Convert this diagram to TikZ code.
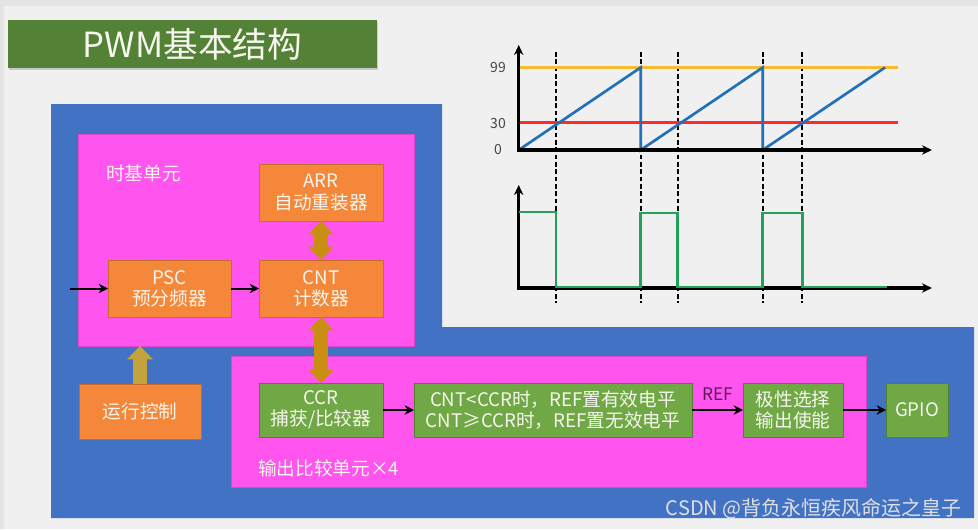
\documentclass[tikz,border=0pt]{standalone}
\usepackage{fontspec}
\setmainfont{Noto Sans CJK SC}
\usepackage{tikz}
\usetikzlibrary{positioning, arrows.meta, shadows}
\definecolor{slide}{HTML}{F0F0F0}
\definecolor{edge}{HTML}{E4E4E4}
\definecolor{titlegreen}{HTML}{538135}
\definecolor{panel}{HTML}{4272C4}
\definecolor{pink}{HTML}{FF55EE}
\definecolor{boxorange}{HTML}{F5873A}
\definecolor{boxgreen}{HTML}{6FA845}
\definecolor{gold}{HTML}{C98E12}
\definecolor{olive}{HTML}{C2A33C}
\definecolor{reflabel}{HTML}{5E1A5C}
\definecolor{sawblue}{HTML}{2271B8}
\definecolor{toporange}{HTML}{F7BC30}
\definecolor{cmpred}{HTML}{FF2A2A}
\definecolor{pwmgreen}{HTML}{22A05C}
\definecolor{textwhite}{HTML}{F6F6EE}
\tikzstyle{titlebar} = [rectangle, minimum width=276.75pt, minimum height=36pt, fill=titlegreen, text=textwhite, inner sep=0pt, font=\fontsize{26}{30}\selectfont, drop shadow={shadow xshift=1pt, shadow yshift=-1.5pt, opacity=0.35}]
\tikzstyle{unit} = [rectangle, draw=pink!85!black, line width=0.4pt, fill=pink, inner sep=0pt, outer sep=0pt]
\tikzstyle{obox} = [rectangle, minimum width=93pt, minimum height=42.75pt, draw=boxorange!80!black, line width=0.4pt, fill=boxorange, text=textwhite, align=center, inner sep=0pt, outer sep=0pt, font=\fontsize{14}{16}\selectfont]
\tikzstyle{gbox} = [obox, minimum height=40.5pt, draw=boxgreen!75!black, fill=boxgreen]
\tikzstyle{caption} = [text=textwhite, font=\fontsize{14}{16}\selectfont, inner sep=0pt]
\tikzstyle{num} = [text=black!72, font=\fontsize{10.5}{12}\selectfont, inner sep=0pt]
\tikzstyle{arrow} = [line width=1.5pt, ->, >={Stealth[length=7pt,width=7pt]}]
\tikzstyle{fat} = [line width=10.5pt, >={Triangle[length=10pt,width=19.5pt,line width=0pt]}]
\tikzstyle{axis} = [line width=2.3pt, <->, >={Stealth[length=7.5pt,width=7pt]}]
\tikzstyle{guide} = [line width=1.25pt, dash pattern=on 3.5pt off 2pt]
\tikzstyle{wave} = [line width=2pt]

\begin{document}
\begin{tikzpicture}[x=0.75pt, y=-0.75pt]
    \useasboundingbox (0,0) rectangle (978,529);
    \fill[edge] (0,0) rectangle (978,529);
    \fill[slide] (4,6) rectangle (978,529);
    \node (title) [titlebar] at (192.5,44) {PWM基本结构};

    % blue panel
    \fill[panel] (51,104) -- (442,104) -- (442,327) -- (974,327) -- (974,518) -- (51,518) -- cycle;
    \node (tbu) [unit, minimum width=252pt, minimum height=159pt] at (246,240) {};
    \node (ocu) [unit, minimum width=476.25pt, minimum height=98.25pt] at (548.5,421.5) {};
    \node (tbulabel) [caption, anchor=west] at (106,173) {时基单元};
    \node (oculabel) [caption, anchor=west] at (258,468) {输出比较单元×4};

    % boxes
    \node (psc) [obox, minimum width=92.25pt] at (169.5,288.5) {PSC\\预分频器};
    \node (cnt) [obox, right=21pt of psc] {CNT\\计数器};
    \node (arr) [obox, above=29.25pt of cnt] {ARR\\自动重装器};
    \node (ccr) [gbox, below=49.5pt of cnt] {CCR\\捕获/比较器};
    \node (cmp) [gbox, right=23.25pt of ccr, minimum width=208.5pt] {CNT<CCR时，REF置有效电平\\CNT≥CCR时，REF置无效电平};
    \node (pol) [gbox, right=38.25pt of cmp, minimum width=75pt] {极性选择\\输出使能};
    \node (gpio) [gbox, right=32.25pt of pol, minimum width=46.5pt] {GPIO};
    \node (run) [obox, minimum width=91.5pt, minimum height=41.25pt] at (140,411.5) {运行控制};

    \coordinate (clk) at (70,288.5);
    \draw[arrow] (clk) -- (psc);
    \draw[arrow] (psc) -- (cnt);
    \draw[arrow] (ccr) -- (cmp);
    \draw[arrow] (cmp) -- (pol) node[midway, above=3pt, text=reflabel, font=\fontsize{13}{15}\selectfont] {REF};
    \draw[arrow] (pol) -- (gpio);
    \draw[fat, gold, <->] (arr.south) -- (cnt.north);
    \draw[fat, gold, <->] (cnt.south) -- (ccr.north);
    \draw[fat, olive, ->] (run.north) -- (run.north |- tbu.south);

    % time markers
    \foreach \x in {556,640.7,677.7,762.7,802.3}
        \draw[guide] (\x,52) -- (\x,303);

    % counter waveform
    \draw[toporange, wave] (518.7,67.5) -- (898,67.5);
    \draw[cmpred, wave] (518.7,122.7) -- (898,122.7);
    \draw[sawblue, wave] (518.7,150) -- (640.7,67.5) -- (640.7,150) -- (762.7,67.5) -- (762.7,150) -- (885,67.5);
    \draw[axis] (518.7,45) -- (518.7,150) -- (932,150);
    \node (l99) [num] at (498,68) {99};
    \node (l30) [num] at (498,124) {30};
    \node (l0) [num] at (498,150) {0};

    % output waveform
    \draw[axis] (518.7,185) -- (518.7,288) -- (932,288);
    \draw[pwmgreen, wave] (518.7,212) -- (556,212) -- (556,287) -- (640.7,287) -- (640.7,213) -- (677.7,213) -- (677.7,287) -- (762.7,287) -- (762.7,213) -- (802.3,213) -- (802.3,287) -- (887,287);

    \node (credit) [anchor=east, text=black!12, inner sep=0pt, font=\fontsize{15}{17}\selectfont] at (962,509) {CSDN @背负永恒疾风命运之皇子};
\end{tikzpicture}
\end{document}
